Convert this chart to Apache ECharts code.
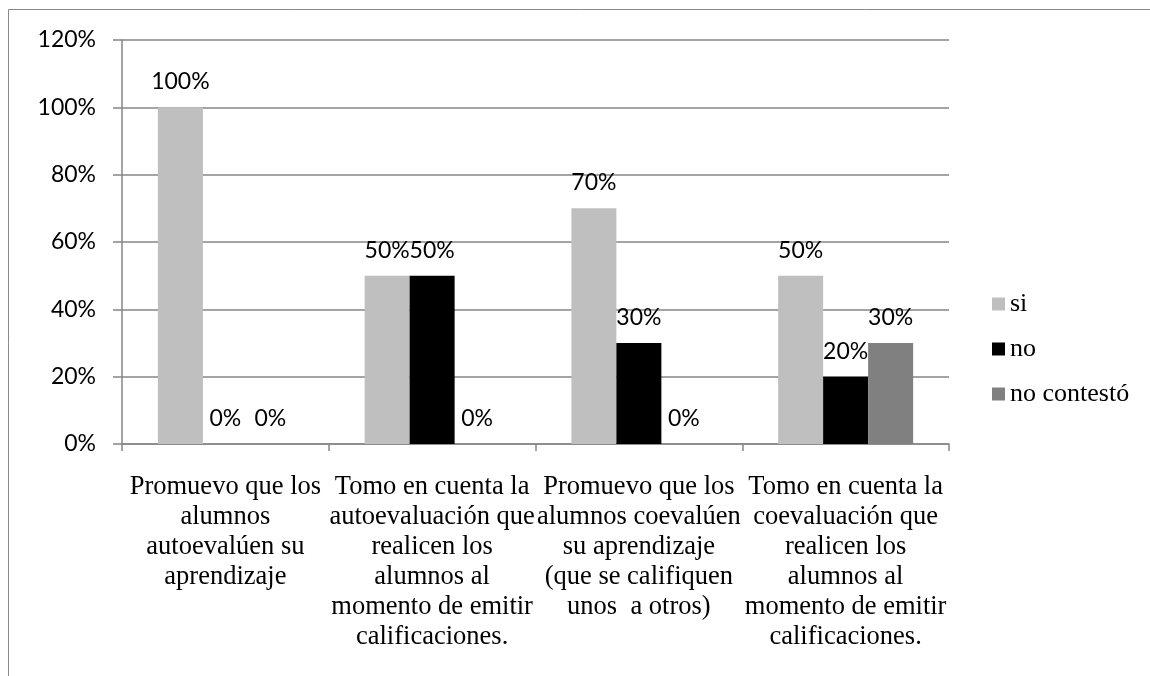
<!DOCTYPE html>
<html><head><meta charset="utf-8">
<script src="https://cdn.jsdelivr.net/npm/echarts@6/dist/echarts.min.js"></script>
<style>html,body{margin:0;padding:0;background:#fff}#c{width:1150px;height:676px}</style>
</head><body><div id="c"></div>
<script>
const categories = [
  "Promuevo que los\nalumnos\nautoevalúen su\naprendizaje",
  "Tomo en cuenta la\nautoevaluación que\nrealicen los\nalumnos al\nmomento de emitir\ncalificaciones.",
  "Promuevo que los\nalumnos coevalúen\nsu aprendizaje\n(que se califiquen\nunos  a otros)",
  "Tomo en cuenta la\ncoevaluación que\nrealicen los\nalumnos al\nmomento de emitir\ncalificaciones."
];
const seriesNames = ["si", "no", "no contestó"];
const siValues = [100, 50, 70, 50];
const noValues = [0, 50, 30, 20];
const noContestoValues = [0, 0, 0, 30];
const seriesColors = ["#BFBFBF", "#000000", "#808080"];
const yTicks = { min: 0, max: 120, interval: 20 };

const sansFont = "Lato";
const serifFont = "Liberation Serif";

function mkSeries(name, data, color) {
  return {
    name: name, type: 'bar', data: data, barWidth: 45, barGap: '0%',
    itemStyle: { color: color },
    label: { show: true, position: 'top', distance: 14, formatter: '{c}%',
      fontFamily: sansFont, fontSize: 23, color: '#000' }
  };
}

const chart = echarts.init(document.getElementById('c'), null, { renderer: 'canvas' });
chart.setOption({
  animation: false,
  backgroundColor: '#fff',
  graphic: [{ type: 'rect', shape: { x: 8.5, y: 9.5, width: 1200, height: 700 },
    style: { fill: 'none', stroke: '#898989', lineWidth: 1 }, silent: true }],
  grid: { left: 122, right: 201, top: 40, bottom: 232, containLabel: false },
  legend: {
    orient: 'vertical', left: 992, top: 291, padding: 0, itemWidth: 13, itemHeight: 13, itemGap: 19,
    icon: 'rect',
    data: seriesNames,
    textStyle: { fontFamily: serifFont, fontSize: 26, color: '#000', lineHeight: 26 }
  },
  xAxis: {
    type: 'category', data: categories,
    axisLine: { lineStyle: { color: '#868686', width: 1.5 } },
    axisTick: { show: true, length: 7, lineStyle: { color: '#868686', width: 1.5 } },
    axisLabel: { interval: 0, margin: 28, fontFamily: serifFont, fontSize: 26.5, lineHeight: 30, color: '#000', align: 'center' }
  },
  yAxis: {
    type: 'value', min: yTicks.min, max: yTicks.max, interval: yTicks.interval,
    axisLine: { show: true, lineStyle: { color: '#868686', width: 1.5 } },
    axisTick: { show: true, length: 9, lineStyle: { color: '#868686', width: 1.5 } },
    splitLine: { lineStyle: { color: '#868686', width: 1.5 } },
    axisLabel: { formatter: '{value}%', margin: 26, fontFamily: sansFont, fontSize: 23, color: '#000' }
  },
  series: [
    mkSeries(seriesNames[0], siValues, seriesColors[0]),
    mkSeries(seriesNames[1], noValues, seriesColors[1]),
    mkSeries(seriesNames[2], noContestoValues, seriesColors[2])
  ]
});
</script></body></html>
